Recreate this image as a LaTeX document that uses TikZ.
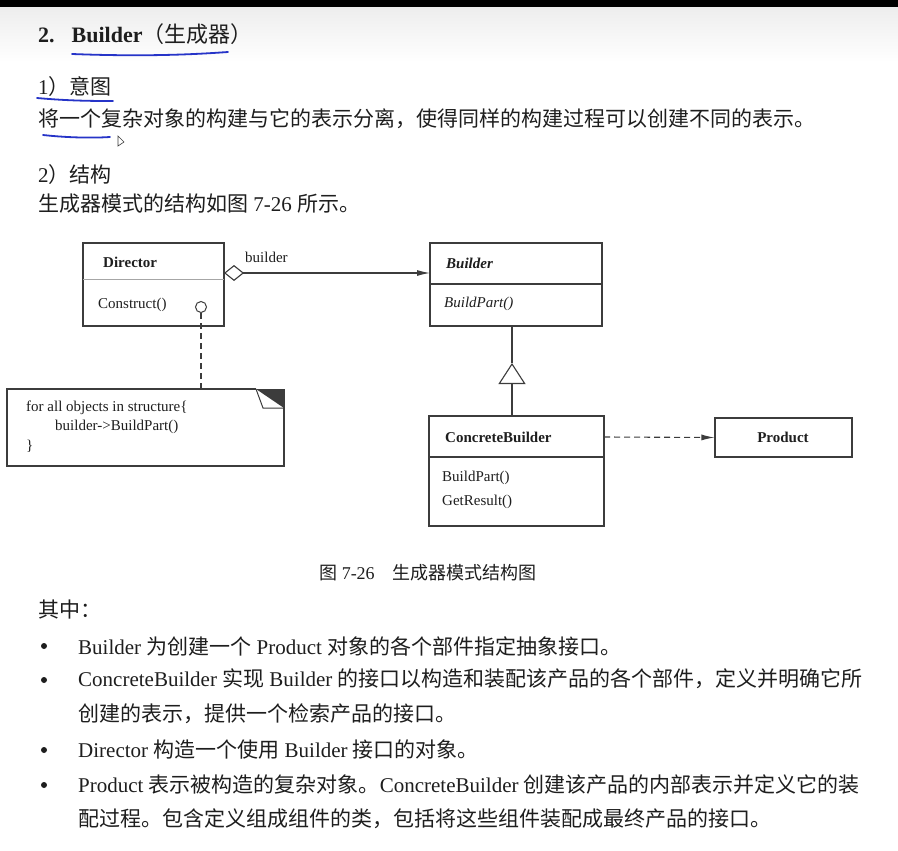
\documentclass[tikz,border=0pt]{standalone}
\usepackage{fontspec}
\setmainfont{Liberation Serif}
\newfontfamily\cjk{Noto Sans CJK SC}
\usetikzlibrary{arrows.meta}
\newcommand{\zh}[1]{{\cjk #1}}
\newcommand{\setsz}[1]{\fontsize{#1}{#1}\selectfont}
\definecolor{ink}{HTML}{1E1E1E}
\definecolor{pen}{HTML}{2634C8}
\definecolor{umlgray}{HTML}{3C3C3C}
\tikzset{
  txt/.style={anchor=west,inner sep=0pt,text=ink,font=\setsz{21}},
  uml/.style={anchor=west,inner sep=0pt,text=ink,font=\setsz{15}},
  classbox/.style={draw=umlgray,line width=1.1pt,inner sep=0pt},
  penline/.style={pen,line width=1.8pt,line cap=round},
  bulletdot/.style={circle,fill=ink,inner sep=0pt,minimum size=6pt}
}
\begin{document}
\begin{tikzpicture}[x=1pt,y=-1pt]
\useasboundingbox (0,0) rectangle (898,851);
\fill[white] (0,0) rectangle (898,851);
\shade[top color=gray!14,bottom color=white] (0,7) rectangle (898,62);
\fill[black] (0,0) rectangle (898,7);

% heading and text
\node[txt,font=\setsz{22}] (title) at (38,34) {\textbf{2.\hspace{17pt}Builder}\zh{（生成器）}};
\node[txt] (intent) at (38,87) {1\zh{）意图}};
\node[txt] (intentbody) at (38,119) {\zh{将一个复杂对象的构建与它的表示分离，使得同样的构建过程可以创建不同的表示。}};
\node[txt] (struct) at (38,175) {2\zh{）结构}};
\node[txt] (structbody) at (38,204) {\zh{生成器模式的结构如图} 7-26 \zh{所示。}};

% pen marks
\draw[penline] (72,54) .. controls (150,57) and (200,54) .. (228,52);
\draw[penline] (37,98) .. controls (70,101) and (95,101) .. (113,101);
\draw[penline] (43,135) .. controls (70,138) and (95,138) .. (110,137);
\draw[umlgray,line width=0.6pt,fill=white] (118,136) -- (118,146) -- (124,142) -- cycle;

% classes
\node[classbox,minimum width=141pt,minimum height=83pt] (director) at (153.5,284.5) {};
\draw[gray!70,line width=0.6pt] (83,279) -- (224,279);
\node[uml,font=\setsz{15}\bfseries] (dirname) at (103,262) {Director};
\node[uml] (dirop) at (98,305) {Construct()};
\node[draw=umlgray,line width=1pt,circle,minimum size=11pt,inner sep=0pt] (hook) at (201,307) {};

\node[classbox,minimum width=172pt,minimum height=83pt] (builder) at (516,284.5) {};
\draw[umlgray,line width=1.1pt] (430,284) -- (602,284);
\node[uml,font=\setsz{15}\bfseries\itshape] (bname) at (446,263) {Builder};
\node[uml,font=\setsz{15}\itshape] (bop) at (444,304) {BuildPart()};

\node[classbox,minimum width=175pt,minimum height=110pt] (cb) at (516.5,471) {};
\draw[umlgray,line width=1.1pt] (429,457) -- (604,457);
\node[uml,font=\setsz{15}\bfseries] (cbname) at (445,437) {ConcreteBuilder};
\node[uml] (cbop1) at (442,478) {BuildPart()};
\node[uml] (cbop2) at (442,502) {GetResult()};

\node[classbox,minimum width=137pt,minimum height=39pt] (product) at (783.5,437.5) {};
\node[uml,anchor=center,font=\setsz{15}\bfseries] (pname) at (783,437) {Product};

% note
\draw[umlgray,line width=1.1pt] (256,389) -- (7,389) -- (7,466) -- (284,466) -- (284,389);
\fill[umlgray] (256,389) -- (284,389) -- (284,408) -- cycle;
\draw[umlgray,line width=1pt] (256,389) -- (263,408) -- (284,408);
\node[uml] (note1) at (26,408) {for all objects in structure\{};
\node[uml] (note2) at (55,427) {builder->BuildPart()};
\node[uml] (note3) at (26,446) {\}};
\coordinate (notetop) at (201,389);

% connectors
\coordinate (aggr) at (224,273);
\coordinate (bin) at (430,273);
\draw[umlgray,line width=1.1pt,{Diamond[open,length=20pt,width=16pt]}-{Latex[length=13pt,width=6pt]}] (aggr) -- (bin);
\node[uml] (role) at (245,257) {builder};
\draw[umlgray,line width=1.1pt,dash pattern=on 6pt off 4pt] (hook.south) -- (notetop);

\coordinate (inhtop) at (512,326);
\coordinate (apex) at (512,363);
\coordinate (inhbot) at (512,416);
\draw[umlgray,line width=1.1pt,-{Triangle[open,length=21pt,width=27pt]}] (inhbot) -- (apex);
\draw[umlgray,line width=1.1pt] (apex) -- (inhtop);

\coordinate (dep) at (604,437);
\draw[umlgray,line width=1.1pt,dash pattern=on 6pt off 4pt,-{Latex[length=13pt,width=6pt]}] (dep) -- (product.west);

% caption and list
\node[txt,anchor=center,font=\setsz{18}] (caption) at (428,573) {\zh{图} 7-26\zh{　生成器模式结构图}};
\node[txt] (among) at (38,610) {\zh{其中：}};

\node[bulletdot] (b1) at (44,646) {};
\node[txt] (l1) at (78,646) {Builder \zh{为创建一个} Product \zh{对象的各个部件指定抽象接口。}};
\node[bulletdot] (b2) at (44,680) {};
\node[txt] (l2) at (78,679) {ConcreteBuilder \zh{实现} Builder \zh{的接口以构造和装配该产品的各个部件，定义并明确它所}};
\node[txt] (l2b) at (78,714) {\zh{创建的表示，提供一个检索产品的接口。}};
\node[bulletdot] (b3) at (44,750) {};
\node[txt] (l3) at (78,750) {Director \zh{构造一个使用} Builder \zh{接口的对象。}};
\node[bulletdot] (b4) at (44,785) {};
\node[txt] (l4) at (78,785) {Product \zh{表示被构造的复杂对象。}ConcreteBuilder \zh{创建该产品的内部表示并定义它的装}};
\node[txt] (l4b) at (78,819) {\zh{配过程。包含定义组成组件的类，包括将这些组件装配成最终产品的接口。}};
\end{tikzpicture}
\end{document}
